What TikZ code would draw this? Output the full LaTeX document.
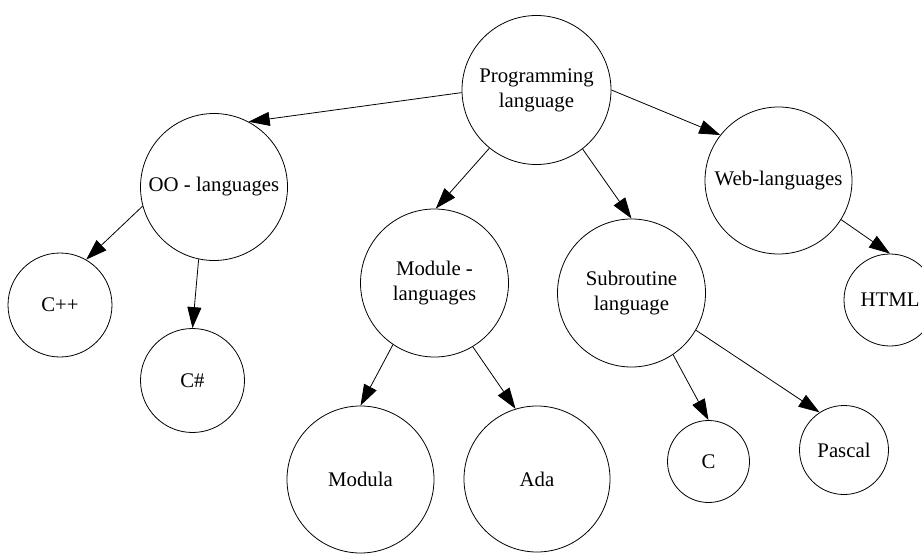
\documentclass[tikz,border=0pt]{standalone}
\usepackage{fontspec}
\setmainfont{Liberation Serif}
\usetikzlibrary{arrows.meta}
\begin{document}
\begin{tikzpicture}[x=1pt,y=-1pt,
  lang/.style={draw, circle, inner sep=0pt, line width=0.8pt, align=center,
    font=\fontsize{20.8}{25}\selectfont},
  link/.style={line width=0.8pt, -{Triangle[length=21pt,width=14pt]}}]
\useasboundingbox (0,0) rectangle (922,554);
\clip (0,0) rectangle (922,554);
% nodes
\node[lang, minimum size=149pt] (prog) at (536.5,90) {Programming\\language};
\node[lang, minimum size=147pt] (oo)   at (214,187) {OO - languages};
\node[lang, minimum size=147pt] (web)  at (778.5,180.5) {Web-languages};
\node[lang, minimum size=148pt] (mod)  at (434.5,283) {Module -\\languages};
\node[lang, minimum size=148pt] (sub)  at (631.5,293) {Subroutine\\language};
\node[lang, minimum size=104pt] (cpp)  at (60,305) {C++};
\node[lang, minimum size=104pt] (cs)   at (192.5,380.5) {C\#};
\node[lang, minimum size=92pt]  (html) at (890,300) {HTML};
\node[lang, minimum size=147pt] (modula) at (360.5,479.5) {Modula};
\node[lang, minimum size=146pt] (ada)  at (537,479) {Ada};
\node[lang, minimum size=82pt]  (c)    at (708.5,461.5) {C};
\node[lang, minimum size=89pt]  (pas)  at (844,450) {Pascal};
% connectors
\draw[link] (prog.182) -- (oo.62);
\draw[link] (prog.231) -- (mod.89);
\draw[link] (prog.308) -- (sub.90);
\draw[link] (prog.0)   -- (web.142.6);
\draw[link] (web.328)  -- (html.90);
\draw[link] (oo.195.5) -- (cpp.60);
\draw[link] (oo.258)   -- (cs.90);
\draw[link] (mod.236)  -- (modula.90);
\draw[link] (mod.301.4) -- (ada.107.5);
\draw[link] (sub.304.2) -- (c.90);
\draw[link] (sub.330.5) -- (pas.123.3);
\end{tikzpicture}
\end{document}
